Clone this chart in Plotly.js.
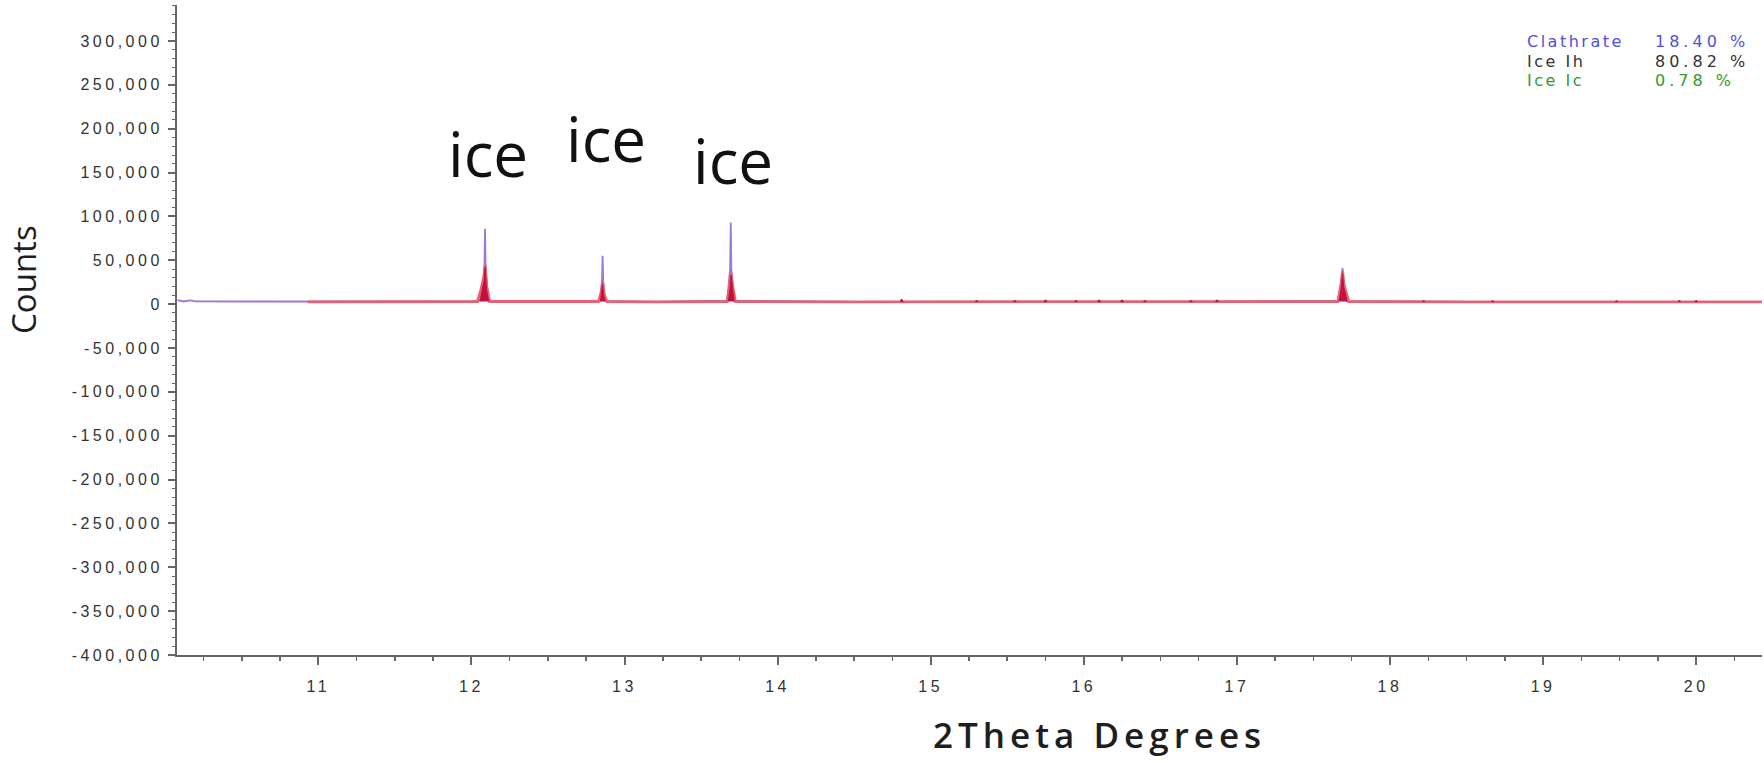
<!DOCTYPE html>
<html>
<head>
<meta charset="utf-8">
<script src="https://cdn.plot.ly/plotly-3.0.1.min.js"></script>
<style>
  html, body { margin: 0; padding: 0; background: #ffffff; }
  #chart { width: 1764px; height: 762px; }
  .xtick text, .ytick text { letter-spacing: 3.5px; }
  .annotation[data-index="0"] text { letter-spacing: 5px; }
  .annotation[data-index="5"] text, .annotation[data-index="7"] text,
  .annotation[data-index="9"] text { letter-spacing: 2.5px; }
  .annotation[data-index="6"] text, .annotation[data-index="8"] text,
  .annotation[data-index="10"] text { letter-spacing: 4px; }
</style>
</head>
<body>
<div id="chart"></div>
<script>
// ---- data ----
const obsX = [10.08, 10.12, 10.16, 10.2, 10.5, 11.0, 11.5, 12.0, 12.07, 12.085, 12.089, 12.093, 12.11, 12.5, 12.84, 12.853, 12.857, 12.861, 12.875, 13.2, 13.67, 13.69, 13.694, 13.698, 13.715, 14.5, 15.5, 16.5, 17.66, 17.686, 17.69, 17.694, 17.72, 18.5, 19.5, 20.43];
const obsY = [4500, 3000, 4200, 3200, 3000, 2800, 2700, 2700, 5000, 40000, 86000, 40000, 4000, 2700, 4000, 25000, 55000, 25000, 3500, 2600, 4000, 40000, 93000, 40000, 4000, 2600, 2600, 2600, 4000, 30000, 41000, 30000, 3500, 2500, 2500, 2500];

const calcX = [10.93, 11.5, 12.0, 12.04, 12.06, 12.07, 12.08, 12.09, 12.1, 12.12, 12.5, 12.83, 12.85, 12.857, 12.865, 12.885, 13.2, 13.67, 13.685, 13.696, 13.705, 13.725, 14.5, 15.5, 16.5, 17.0, 17.66, 17.68, 17.69, 17.7, 17.73, 18.5, 19.5, 20.43];
const calcY = [2600, 2600, 2600, 3000, 15000, 22000, 30000, 45000, 20000, 3000, 2600, 3000, 15000, 26000, 12000, 3000, 2600, 3000, 18000, 36000, 22000, 3000, 2600, 2600, 2600, 2600, 3000, 22000, 38000, 22000, 3000, 2600, 2600, 2600];

const peakX = [12.055, 12.068, 12.082, 12.09, 12.098, 12.112, null,
               12.843, 12.853, 12.857, 12.862, 12.874, null,
               13.678, 13.689, 13.696, 13.703, 13.716, null,
               17.668, 17.683, 17.69, 17.697, 17.72, null,
               14.80, 14.81, 14.82, null, 15.29, 15.3, 15.31, null, 15.54, 15.55, 15.56, null,
               15.74, 15.75, 15.76, null, 15.94, 15.95, 15.96, null, 16.09, 16.1, 16.11, null,
               16.24, 16.25, 16.26, null, 16.39, 16.4, 16.41, null, 16.69, 16.7, 16.71, null,
               16.86, 16.87, 16.88, null, 18.21, 18.22, 18.23, null, 18.66, 18.67, 18.68, null,
               19.47, 19.48, 19.49, null, 19.88, 19.89, 19.9, null, 19.99, 20.0, 20.01];
const peakY = [3000, 14000, 26000, 42000, 18000, 3000, null,
               3000, 14000, 23000, 11000, 3000, null,
               3000, 17000, 33000, 20000, 3000, null,
               3000, 20000, 35000, 20000, 3000, null,
               2500, 6000, 2500, null, 2500, 4500, 2500, null, 2500, 4500, 2500, null,
               2500, 5000, 2500, null, 2500, 4500, 2500, null, 2500, 5000, 2500, null,
               2500, 5000, 2500, null, 2500, 4500, 2500, null, 2500, 4500, 2500, null,
               2500, 5000, 2500, null, 2500, 4000, 2500, null, 2500, 4000, 2500, null,
               2500, 4000, 2500, null, 2500, 4500, 2500, null, 2500, 4500, 2500];

const yTickVals = [300000, 250000, 200000, 150000, 100000, 50000, 0, -50000, -100000, -150000, -200000, -250000, -300000, -350000, -400000];
const yTickText = ["300,000", "250,000", "200,000", "150,000", "100,000", "50,000", "0", "-50,000", "-100,000", "-150,000", "-200,000", "-250,000", "-300,000", "-350,000", "-400,000"];

const iceLabels = ["ice", "ice", "ice"];
const iceX = [12.107, 12.878, 13.706];
const iceY = [172000, 189000, 164000];

const phaseNames = ["Clathrate", "Ice Ih", "Ice Ic"];
const phasePercents = ["18.40 %", "80.82 %", "0.78 %"];
const phaseColors = ["#5050e0", "#333333", "#2f9a2f"];

const xTitle = "2Theta Degrees";
const yTitle = "Counts";

// ---- traces ----
const traces = [
  { x: obsX, y: obsY, type: "scatter", mode: "lines", name: "Observed",
    line: { color: "#9a78d8", width: 1.8 }, hoverinfo: "skip" },
  { x: calcX, y: calcY, type: "scatter", mode: "lines", name: "Calculated",
    line: { color: "#e46272", width: 2.8 }, hoverinfo: "skip" },
  { x: peakX, y: peakY, type: "scatter", mode: "lines", name: "Ice Ih",
    connectgaps: false, fill: "toself", fillcolor: "#c4103e",
    line: { color: "#c4103e", width: 1 }, hoverinfo: "skip" }
];

const annotations = [];
annotations.push({ text: xTitle, xref: "paper", yref: "paper", x: 0.5823, y: -0.123,
  xanchor: "center", yanchor: "middle", showarrow: false,
  font: { family: "Open Sans, sans-serif", size: 35, color: "#1e1e1e", weight: 600 } });
annotations.push({ text: yTitle, xref: "paper", yref: "paper", x: -0.0965, y: 0.577,
  xanchor: "center", yanchor: "middle", showarrow: false, textangle: -90,
  font: { family: "Open Sans, sans-serif", size: 33, color: "#1e1e1e" } });
for (let i = 0; i < iceLabels.length; i++) {
  annotations.push({ text: iceLabels[i], xref: "x", yref: "y", x: iceX[i], y: iceY[i],
    xanchor: "center", yanchor: "middle", showarrow: false,
    font: { family: "Open Sans, sans-serif", size: 62, color: "#111111" } });
}
const legendY = [0.9446, 0.9138, 0.8831];
for (let i = 0; i < phaseNames.length; i++) {
  annotations.push({ text: phaseNames[i], xref: "paper", yref: "paper", x: 0.8505, y: legendY[i],
    xanchor: "left", yanchor: "middle", align: "left", showarrow: false,
    font: { family: "DejaVu Sans, sans-serif", size: 16, color: phaseColors[i] } });
  annotations.push({ text: phasePercents[i], xref: "paper", yref: "paper", x: 0.9312, y: legendY[i],
    xanchor: "left", yanchor: "middle", align: "left", showarrow: false,
    font: { family: "DejaVu Sans, sans-serif", size: 16, color: phaseColors[i] } });
}

const axisColor = "#666666";
const tickFont = { family: "Liberation Sans, Arial, sans-serif", size: 16, color: "#333333" };

const layout = {
  width: 1764, height: 762,
  margin: { l: 177, r: 2, t: 5, b: 107, pad: 0 },
  paper_bgcolor: "#ffffff", plot_bgcolor: "#ffffff",
  showlegend: false,
  xaxis: {
    range: [10.077, 20.43], dtick: 1, tick0: 0,
    showgrid: false, zeroline: false,
    showline: true, linecolor: axisColor, linewidth: 2,
    ticks: "outside", ticklen: 8, tickwidth: 2, tickcolor: axisColor,
    ticklabelstandoff: 8,
    tickfont: tickFont,
    minor: { dtick: 0.25, tick0: 0, ticks: "outside", ticklen: 4, tickwidth: 1.5, tickcolor: axisColor, showgrid: false }
  },
  yaxis: {
    range: [-400000, 341000],
    tickmode: "array", tickvals: yTickVals, ticktext: yTickText,
    showgrid: false, zeroline: false,
    showline: true, linecolor: axisColor, linewidth: 2,
    ticks: "outside", ticklen: 7, tickwidth: 2, tickcolor: axisColor,
    ticklabelstandoff: 2,
    tickfont: tickFont,
    minor: { tickmode: "linear", dtick: 10000, tick0: 0, ticks: "outside", ticklen: 3, tickwidth: 1, tickcolor: axisColor, showgrid: false }
  },
  annotations: annotations
};

Plotly.newPlot("chart", traces, layout, { staticPlot: true, displayModeBar: false });
</script>
</body>
</html>
